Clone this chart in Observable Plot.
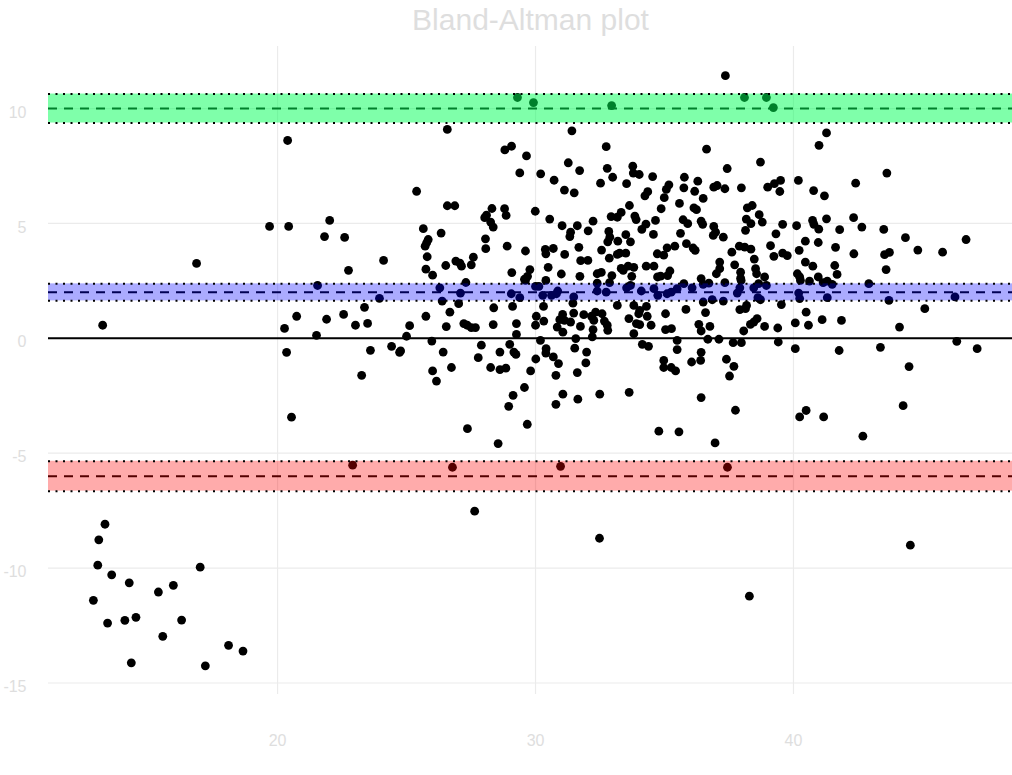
<!DOCTYPE html>
<html>
<head>
<meta charset="utf-8">
<script src="https://cdn.jsdelivr.net/npm/d3@7"></script>
<script src="https://cdn.jsdelivr.net/npm/@observablehq/plot@0.6"></script>
<style>
  html, body { margin: 0; padding: 0; background: #ffffff; }
  #chart { width: 1012px; height: 775px; }
</style>
</head>
<body>
<div id="chart"></div>
<script>
const meanValues = [
  26.58,25.39,28.81,29.07,29.65,29.39,31.41,32.74,31.27,31.71,30.20,30.72,32.78,32.99,33.77,33.79,34.02,34.54,32.52,33.53,
  31.12,31.50,35.17,35.07,34.35,34.24,34.99,35.58,26.58,26.87,28.31,28.80,28.86,29.99,33.64,34.87,28.03,28.10,28.26,28.36,
  30.55,32.93,33.17,33.32,33.85,33.90,34.65,32.23,31.03,31.62,31.36,31.33,32.04,34.28,34.12,34.57,35.62,32.84,32.88,32.80,
  33.19,33.50,33.68,25.65,26.34,25.84,25.78,25.72,28.06,28.07,28.90,29.61,30.38,30.69,30.40,31.68,32.56,33.17,33.26,33.50,
  35.10,35.40,34.72,34.97,32.86,25.80,26.91,27.13,27.07,27.59,27.51,26.52,25.75,26.01,31.13,31.75,32.03,30.49,33.32,33.59,
  33.81,34.29,34.59,33.40,33.73,32.39,32.55,32.96,34.73,34.85,35.21,35.12,29.08,29.78,29.69,29.57,31.00,31.72,27.30,30.40,
  32.87,26.29,27.09,26.38,29.06,29.39,29.61,30.00,30.13,30.28,30.62,30.81,30.86,31.48,31.45,32.39,32.39,32.74,33.53,33.68,
  34.10,34.59,34.74,35.10,35.26,35.49,27.02,26.68,28.38,29.11,30.31,25.75,25.12,25.00,24.77,25.98,26.54,27.22,27.35,27.51,
  27.67,28.36,29.26,29.26,30.03,30.00,30.32,31.05,30.94,31.12,30.84,31.06,31.36,31.48,31.87,32.17,32.33,32.58,31.74,32.26,
  32.23,32.20,32.78,32.80,32.67,33.17,33.81,34.04,34.00,34.30,34.33,33.62,33.91,34.04,34.48,33.81,35.04,35.04,35.27,30.19,
  31.56,27.90,26.42,29.00,29.16,29.24,28.62,27.78,30.41,30.40,30.69,31.52,31.98,31.95,30.01,30.89,26.74,26.01,26.16,28.26,
  28.62,28.85,29.81,30.79,31.62,34.14,34.38,34.97,34.97,35.26,35.43,35.49,35.49,29.57,29.13,28.96,31.06,30.79,31.64,32.49,
  33.63,27.36,29.68,28.55,34.78,35.56,
  41.28,40.99,36.63,38.72,37.43,43.62,35.77,35.75,36.29,36.17,36.50,36.91,37.04,37.34,37.98,39.00,39.26,39.50,39.47,40.19,
  40.78,41.20,42.41,36.14,36.24,38.21,38.40,38.67,38.79,38.17,38.35,38.14,35.72,35.90,36.42,36.48,36.91,36.98,36.89,37.28,
  35.85,36.19,36.11,39.58,39.32,40.12,40.74,40.79,40.98,41.28,41.79,42.33,42.65,43.50,44.34,46.69,40.46,40.96,40.22,39.11,
  37.90,38.11,38.35,37.61,39.24,39.58,39.76,38.48,41.63,42.34,43.53,43.72,44.82,45.78,37.14,37.14,37.01,37.72,37.95,37.95,
  38.53,38.57,38.88,36.42,37.34,40.46,40.75,41.60,41.69,40.15,40.24,40.62,40.96,41.15,41.31,41.50,43.59,42.92,
  35.75,36.07,36.50,36.72,37.97,37.92,37.82,38.46,38.65,38.95,38.62,38.72,40.20,40.24,40.27,41.31,43.70,46.26,36.50,36.85,
  37.28,35.83,36.59,39.53,37.92,38.18,38.14,40.49,45.09,36.33,36.42,36.76,38.07,38.33,38.46,38.59,38.88,39.39,40.07,40.58,
  41.11,41.86,44.11,36.68,37.11,37.66,37.98,39.41,40.07,41.77,43.37,46.33,47.12,36.42,36.40,36.05,37.40,37.69,37.52,44.48,
  36.42,37.75,40.24,40.49,41.17,44.25,36.96,42.69,
  13.22,16.86,19.69,20.43,20.39,20.27,20.35,20.54,20.74,21.55,21.51,21.82,22.02,21.90,22.60,22.56,22.75,22.91,23.02,23.37,
  23.49,23.26,23.60,23.95,24.11,24.42,24.73,
  29.30,29.92,32.95,38.10,38.95,39.22,37.36,26.78,30.97,37.44,27.64,32.48,44.53,38.29,
  13.31,13.07,13.03,13.57,14.25,12.86,13.41,14.08,14.51,15.38,15.96,17.00,16.28,15.55,14.33,17.20,18.10,18.66
];
const diffValues = [
  9.09,6.40,8.20,8.36,7.94,7.20,9.03,8.34,7.64,7.30,7.16,6.88,7.40,7.01,7.49,7.19,7.13,7.04,6.75,6.73,
  6.45,6.33,6.68,6.48,6.38,6.20,6.12,5.87,5.77,5.77,5.65,5.64,5.35,5.53,5.78,5.64,5.25,5.36,5.06,4.84,
  5.19,5.30,5.27,5.48,5.32,5.17,5.13,5.10,4.90,4.90,4.62,4.43,4.68,4.97,4.74,4.52,4.57,4.65,4.40,4.20,
  4.23,4.51,4.20,4.77,4.58,4.30,4.16,4.01,4.33,3.90,4.01,3.80,3.87,3.91,3.68,3.96,3.84,3.65,3.71,3.71,
  3.94,4.01,3.68,3.62,3.49,3.55,3.36,3.14,3.27,3.53,3.20,3.17,3.01,2.75,3.65,3.38,3.39,3.09,3.04,3.14,
  3.09,3.14,3.14,2.96,2.70,2.81,2.87,2.73,2.67,2.71,2.93,2.73,2.86,2.99,2.70,2.57,2.80,2.70,2.43,2.52,
  2.42,2.20,1.97,1.62,1.94,1.77,2.52,2.26,2.26,1.87,1.87,1.94,2.06,1.80,1.53,2.40,2.06,2.01,2.20,2.30,
  2.06,2.16,1.87,1.94,2.01,2.16,1.51,1.14,1.33,1.39,1.39,0.96,0.55,0.09,-0.55,-0.12,0.51,0.64,0.57,0.47,
  0.47,0.60,0.64,0.17,0.96,0.57,0.75,1.04,0.81,0.78,0.49,0.27,0.71,1.10,1.03,0.96,1.14,1.07,0.52,0.78,
  0.38,0.06,0.57,0.35,0.75,1.43,1.43,1.22,1.07,1.39,0.96,0.86,0.64,0.60,0.57,0.20,1.07,0.38,0.42,-0.09,
  -0.01,-0.30,-0.60,-0.26,-0.60,-0.70,-0.60,-0.84,-0.45,-0.64,-0.81,-0.43,-0.60,-1.07,-0.90,-1.10,-1.27,-1.42,-1.86,-1.27,
  -1.36,-1.30,-1.42,-1.61,-1.49,-0.26,-0.35,-0.96,-1.27,-1.27,-1.42,-0.09,-0.49,-2.14,-2.48,-2.96,-2.43,-2.87,-2.65,-2.43,
  -2.35,-3.93,-3.74,-4.58,-4.04,-4.07,
  8.94,8.40,8.23,7.67,7.39,7.19,7.01,6.55,6.84,6.40,6.09,6.58,6.65,6.51,6.55,6.58,6.73,6.87,6.39,6.87,
  6.43,6.20,6.75,5.68,5.60,5.68,5.78,5.38,5.06,5.19,4.99,4.70,5.16,4.99,5.10,4.96,4.87,4.62,4.48,4.40,
  4.12,3.83,3.93,4.96,4.55,4.90,5.13,4.96,4.75,5.20,4.73,5.25,4.84,4.74,4.38,4.30,4.23,4.17,3.83,4.03,
  4.01,3.97,3.88,3.75,3.57,3.71,3.60,3.45,3.96,3.68,3.64,3.74,3.84,3.75,3.32,3.03,2.81,3.20,2.88,2.62,
  3.03,2.81,2.67,2.60,2.42,3.32,3.14,3.17,2.78,2.81,2.67,2.49,2.67,2.42,2.49,2.35,2.99,2.38,
  2.38,2.20,2.35,2.40,2.52,2.20,1.97,2.20,2.38,2.30,1.77,1.68,1.97,1.73,2.52,1.77,1.65,1.80,1.58,1.68,
  1.62,1.26,1.12,1.47,1.25,1.43,1.29,1.14,1.29,0.61,0.32,0.52,0.32,0.61,0.71,0.86,0.52,0.45,0.67,0.57,
  0.81,0.78,0.49,-0.04,-0.04,-0.19,-0.19,-0.16,-0.45,-0.53,-0.39,-0.13,-0.45,-0.61,-0.96,-1.03,-0.91,-1.22,-1.64,-1.23,
  -2.58,-3.13,-3.42,-3.14,-3.42,-2.93,-4.55,-4.26,
  0.57,3.26,4.87,4.87,8.61,0.43,-0.61,-3.43,0.96,2.30,0.13,4.43,5.13,0.83,4.39,1.04,2.96,-5.52,0.57,1.35,
  0.65,-1.61,-0.52,1.74,3.39,-0.35,-0.61,
  10.48,10.26,10.13,10.48,10.48,10.04,11.43,-5.61,-5.57,-5.61,-7.52,-8.70,-9.00,-11.22,
  -8.09,-8.77,-9.87,-10.29,-10.64,-11.40,-12.39,-12.27,-12.14,-11.04,-10.75,-9.96,-12.26,-12.97,-14.12,-14.25,-13.36,-13.61
];

// Limits of agreement: upper limit, mean difference (bias), lower limit, with confidence bands
const limitNames = ["upper", "bias", "lower"];
const limitCenters = [10.0, 2.0, -6.0];
const limitCILow = [9.37, 1.63, -6.65];
const limitCIHigh = [10.63, 2.37, -5.35];
const limitColors = ["#00ff55", "#0000ff", "#ff0000"];
const limitOpacity = [0.5, 0.33, 0.33];

const xTicks = [20, 30, 40];
const yTicks = [-15, -10, -5, 0, 5, 10];
const titleText = "Bland-Altman plot";

const points = meanValues.map((m, i) => ({mean: m, diff: diffValues[i]}));
const limits = limitNames.map((n, i) => ({
  name: n, center: limitCenters[i], lo: limitCILow[i], hi: limitCIHigh[i],
  color: limitColors[i], opacity: limitOpacity[i]
}));
const ciEdges = limits.flatMap(d => [{v: d.lo}, {v: d.hi}]);

const faint = "#dedede";

const chart = Plot.plot({
  width: 1012,
  height: 775,
  marginLeft: 48,
  marginRight: 0,
  marginTop: 46,
  marginBottom: 81,
  style: {background: "#ffffff", fontFamily: "Liberation Sans, Arial, sans-serif"},
  x: {domain: [11.12, 48.49], axis: null},
  y: {domain: [-15.5, 12.7], axis: null},
  marks: [
    Plot.gridX(xTicks, {stroke: "#ebebeb", strokeOpacity: 1, strokeWidth: 1.2}),
    Plot.gridY(yTicks, {stroke: "#ebebeb", strokeOpacity: 1, strokeWidth: 1.2}),
    Plot.axisX(xTicks, {tickSize: 0, tickPadding: 40, fontSize: 16, fill: faint, label: null, tickFormat: d => String(d)}),
    Plot.axisY(yTicks, {tickSize: 0, tickPadding: 22, fontSize: 16, fill: faint, label: null, dy: 4, tickFormat: d => String(d)}),
    Plot.ruleY([0], {stroke: "#000000", strokeWidth: 2}),
    Plot.dot(points, {x: "mean", y: "diff", r: 4.4, fill: "#000000", stroke: "none"}),
    Plot.ruleY(limits, {y: "center", stroke: "#000000", strokeWidth: 2, strokeDasharray: "9,7"}),
    Plot.rect(limits, {y1: "lo", y2: "hi", fill: "color", fillOpacity: "opacity"}),
    Plot.ruleY(ciEdges, {y: "v", stroke: "#000000", strokeWidth: 2, strokeDasharray: "2,5.5"}),
    Plot.text([titleText], {frameAnchor: "top", dy: -38, fontSize: 30, fill: faint})
  ]
});
document.getElementById("chart").appendChild(chart);
</script>
</body>
</html>
